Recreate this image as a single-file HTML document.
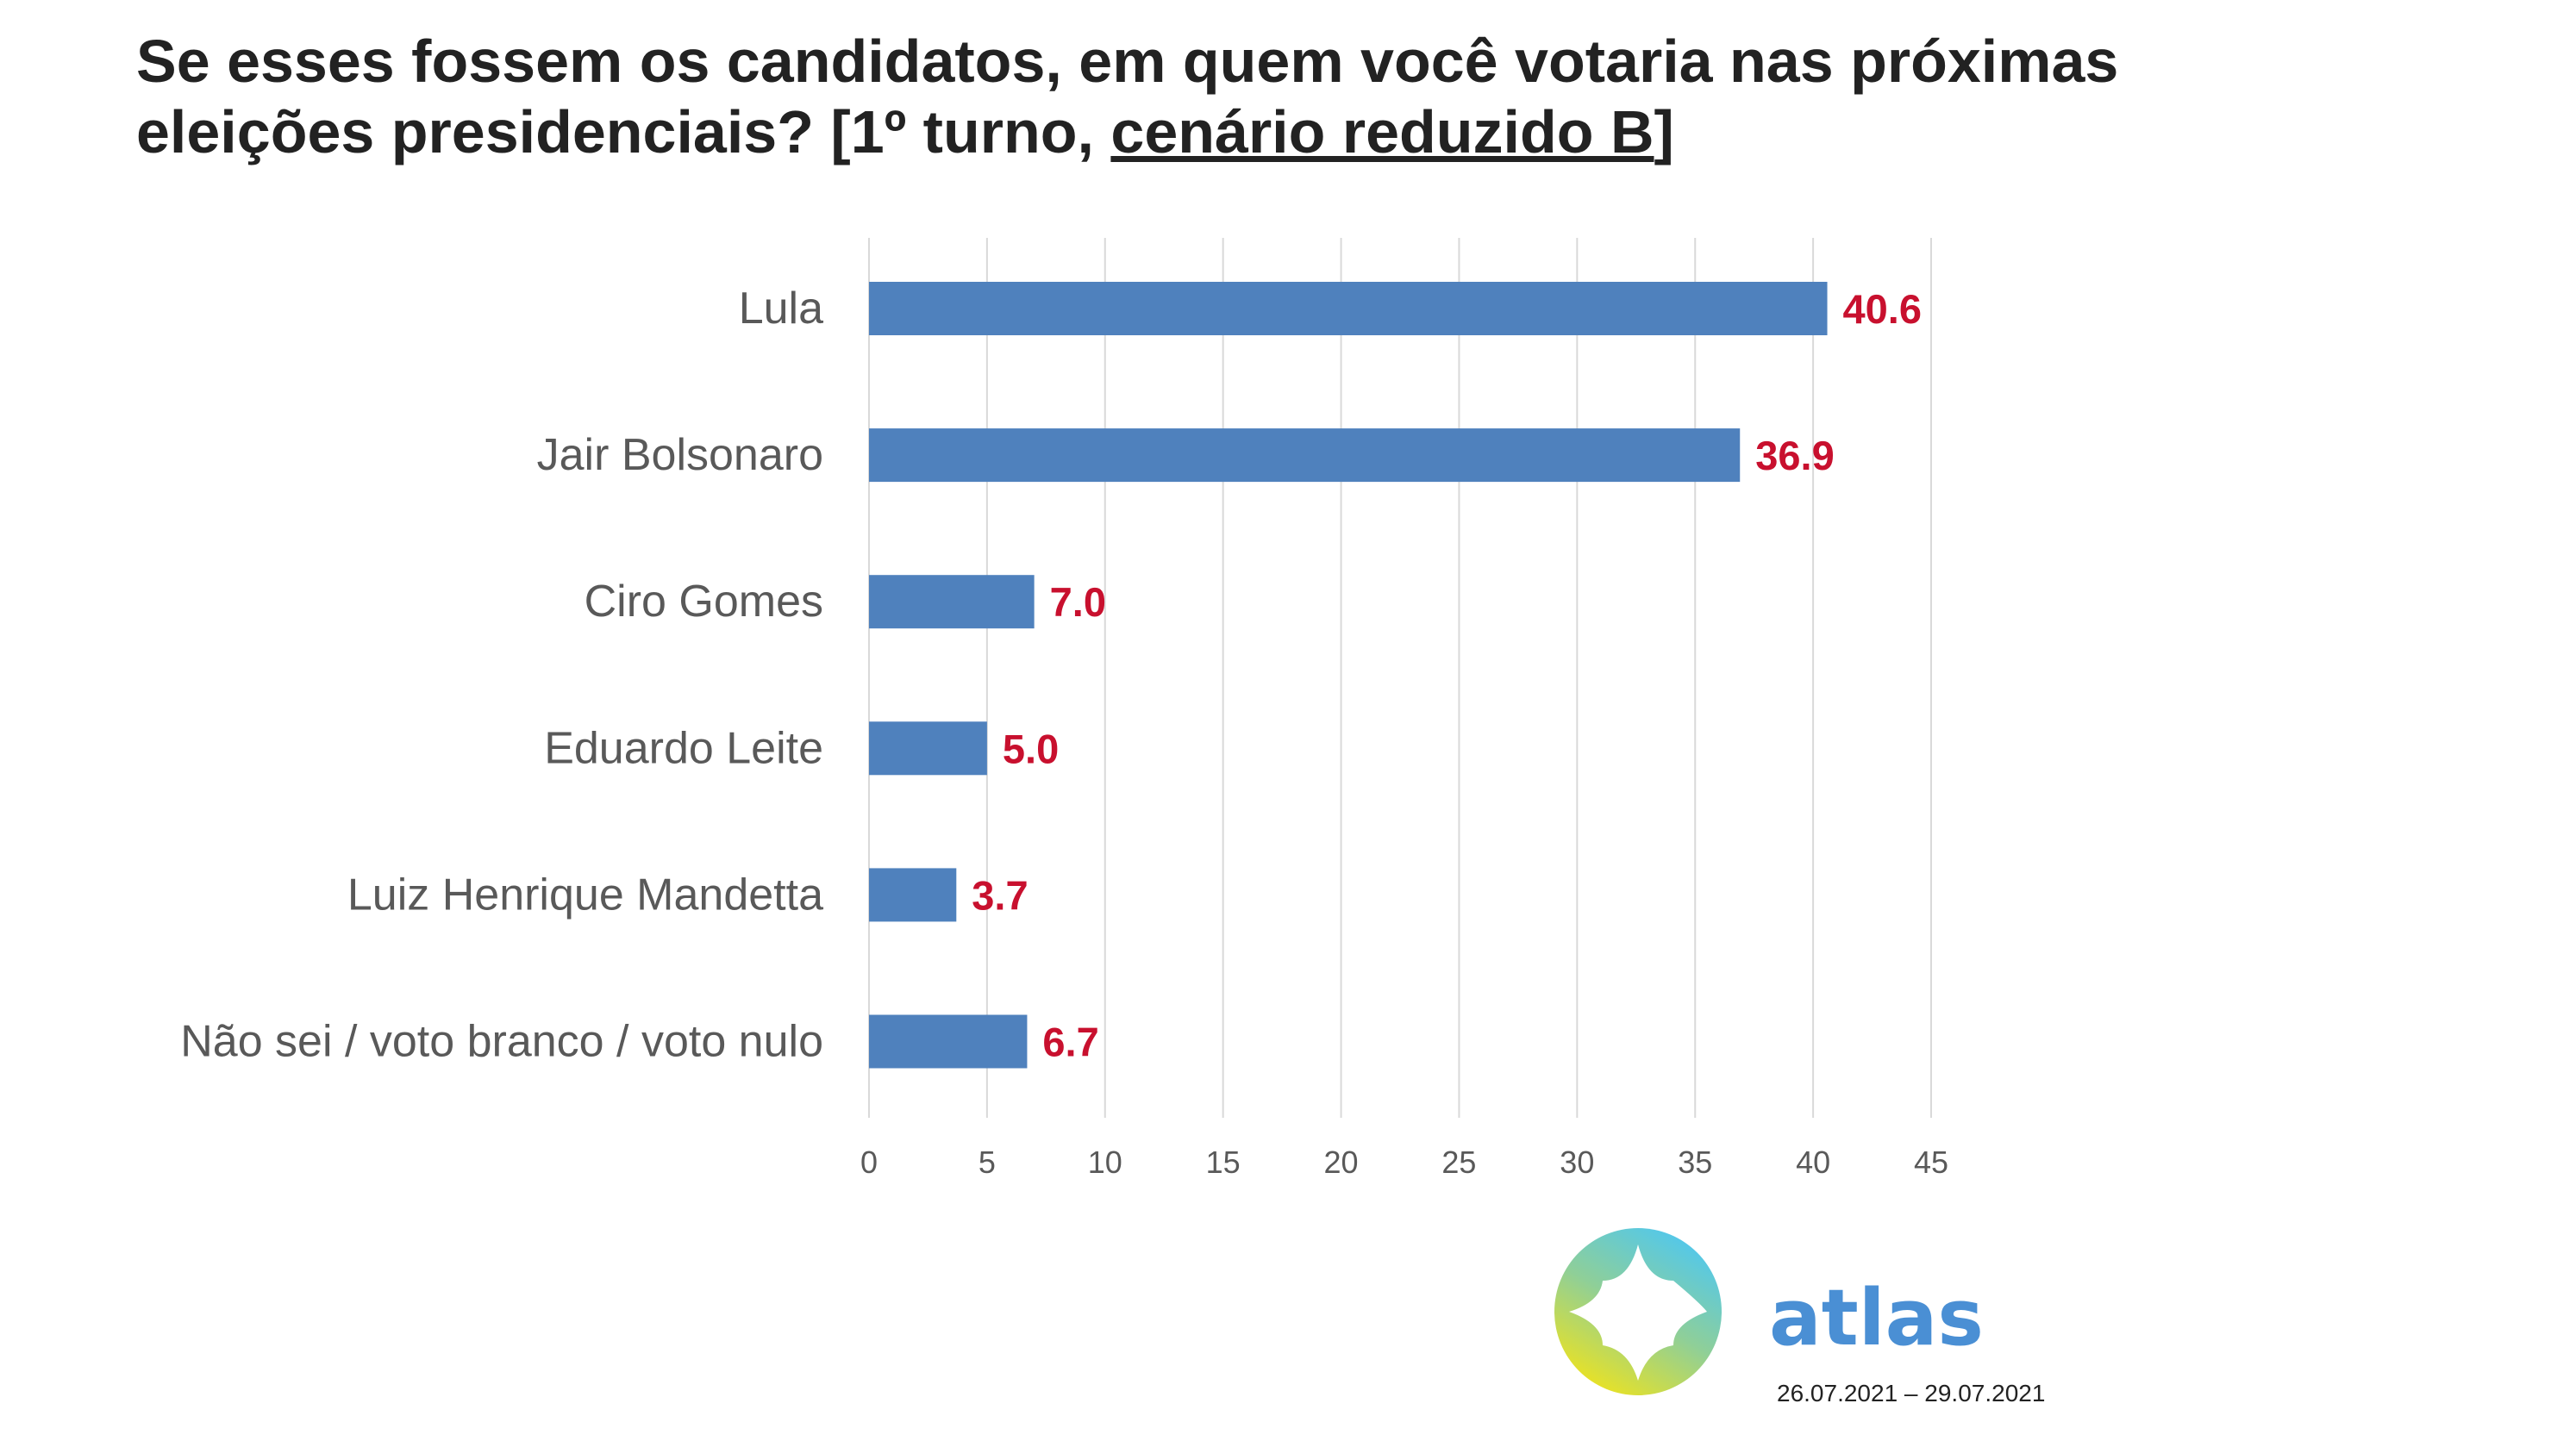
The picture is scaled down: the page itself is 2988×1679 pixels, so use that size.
<!DOCTYPE html>
<html><head><meta charset="utf-8"><style>
body{margin:0;width:2988px;height:1679px;background:#fff;overflow:hidden;font-family:"Liberation Sans",sans-serif}
#title{position:absolute;left:158px;top:30px;font-weight:bold;font-size:70px;line-height:82px;color:#222;white-space:nowrap}
</style></head><body>
<div id="title">Se esses fossem os candidatos, em quem você votaria nas próximas<br>eleições presidenciais? [1º turno, <u>cenário reduzido B</u>]</div>
<svg id="chart" width="2988" height="1679" style="position:absolute;left:0;top:0">
<defs><linearGradient id="lg" x1="0.2" y1="1" x2="0.8" y2="0"><stop offset="0" stop-color="#f3e418"/><stop offset="0.5" stop-color="#8fcf98"/><stop offset="1" stop-color="#4cc7f4"/></linearGradient></defs>
<g id="grid"></g><g id="bars"></g>
<g>
<g transform="translate(-19,-14)">
<ellipse cx="1919" cy="1536" rx="97" ry="97" fill="url(#lg)"/>
<path d="M1919 1458 Q1930 1500 1960 1500 Q1990 1525 1999 1536 Q1960 1550 1960 1575 Q1930 1580 1919 1616 Q1908 1580 1878 1575 Q1878 1550 1839 1536 Q1875 1525 1878 1500 Q1908 1500 1919 1458Z" fill="#fff"/>
</g>
<text x="2052" y="1560" font-size="90" font-weight="bold" fill="#4a8fd4" font-family="DejaVu Sans">atlas</text>
<text x="2061" y="1626" font-size="28" fill="#222">26.07.2021 – 29.07.2021</text>
</g>
</svg>
<script>
const categories=["Lula","Jair Bolsonaro","Ciro Gomes","Eduardo Leite","Luiz Henrique Mandetta","Não sei / voto branco / voto nulo"];
const values=[40.6,36.9,7.0,5.0,3.7,6.7];
const ticks=[0,5,10,15,20,25,30,35,40,45];
const NS="http://www.w3.org/2000/svg";
const x=v=>1008+v*(2240-1008)/45;
const y=i=>358+i*170.1;
function mk(t,a,p){const e=document.createElementNS(NS,t);for(const k in a)e.setAttribute(k,a[k]);p.appendChild(e);return e;}
const g=document.getElementById('grid'),b=document.getElementById('bars');
ticks.forEach(t=>{
 const l=mk('line',{x1:x(t),x2:x(t),y1:276,y2:1297,stroke:'#d9d9d9','stroke-width':2},g);
 
 
 const tx=mk('text',{x:x(t),y:1361,'text-anchor':'middle','font-size':36,fill:'#595959'},g);
 tx.textContent=t;
 
 
});
categories.forEach((c,i)=>{
 const r=mk('rect',{x:x(0),y:y(i)-31,width:x(values[i])-x(0),height:62,fill:'#4f81bd'},b);
 
 
 const lb=mk('text',{x:955,y:y(i)+17,'text-anchor':'end','font-size':52,fill:'#595959'},b);
 lb.textContent=c;
 
 
 const v=mk('text',{x:x(values[i])+18,y:y(i)+17,'font-size':47,'font-weight':'bold',fill:'#c8102e'},b);
 v.textContent=values[i].toFixed(1);
 
 
});
</script>
</body></html>
